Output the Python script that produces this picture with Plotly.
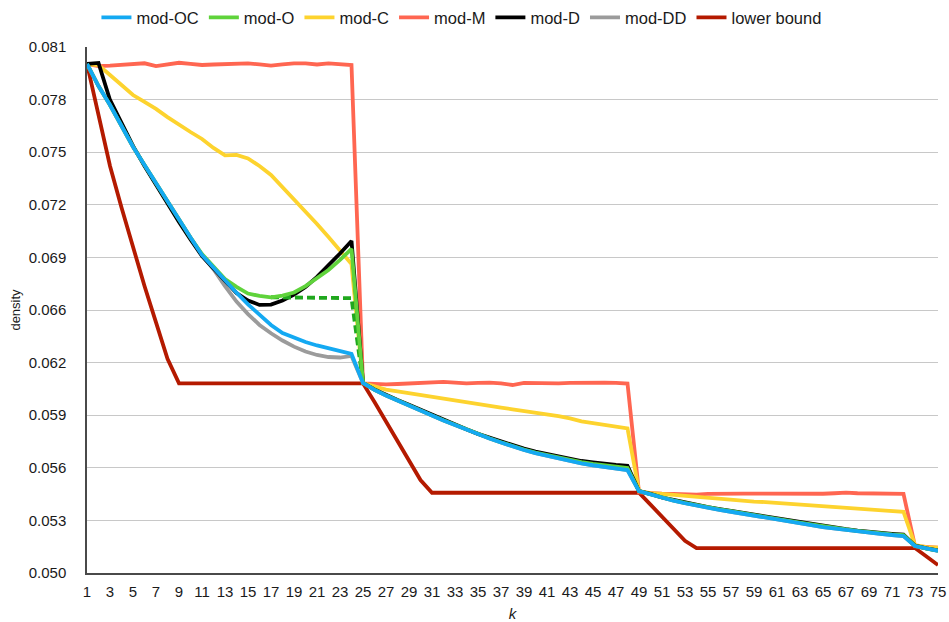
import plotly.graph_objects as go

k = list(range(1, 76))

mod_OC = [0.0800, 0.0787, 0.07758, 0.07634, 0.07512, 0.07405, 0.07296, 0.07188, 0.0708, 0.06977,
          0.06874, 0.06798, 0.06721, 0.06652, 0.06583, 0.06524, 0.06462, 0.06414, 0.06385, 0.06361,
          0.06341, 0.06323, 0.06305, 0.06291, 0.0612, 0.06079, 0.06046, 0.06018, 0.0599, 0.05959,
          0.05928, 0.05899, 0.05871, 0.05843, 0.05816, 0.05793, 0.05769, 0.05746, 0.05725, 0.05707,
          0.05691, 0.05675, 0.0566, 0.05646, 0.05635, 0.05625, 0.05616, 0.05607, 0.05483, 0.05463,
          0.05442, 0.05426, 0.05411, 0.05397, 0.05384, 0.05372, 0.05361, 0.05349, 0.05338, 0.05327,
          0.05316, 0.05305, 0.05293, 0.05282, 0.05271, 0.05262, 0.05253, 0.05244, 0.05236, 0.0523,
          0.05224, 0.05218, 0.05159, 0.05143, 0.05131]

mod_O = [0.0800, 0.0787, 0.07758, 0.07634, 0.07512, 0.07405, 0.07296, 0.07188, 0.0708, 0.06977,
         0.0688, 0.06803, 0.06733, 0.06686, 0.06647, 0.06633, 0.06625, 0.06635, 0.06653, 0.06691,
         0.06736, 0.06786, 0.06845, 0.0691, 0.0612, 0.0608, 0.06047, 0.06019, 0.05991, 0.0596,
         0.05929, 0.059, 0.05872, 0.05844, 0.05817, 0.05794, 0.05771, 0.05748, 0.05728, 0.0571,
         0.05695, 0.0568, 0.05666, 0.05653, 0.05643, 0.05634, 0.05626, 0.05619, 0.05483, 0.05464,
         0.05444, 0.05428, 0.05413, 0.05399, 0.05386, 0.05375, 0.05364, 0.05352, 0.05341, 0.0533,
         0.05319, 0.05308, 0.05297, 0.05286, 0.05275, 0.05266, 0.05257, 0.05248, 0.0524, 0.05234,
         0.05228, 0.05223, 0.0516, 0.05144, 0.05132]

# mod-O variant drawn dashed (k = 17 .. 25)
mod_O_alt_k = [17, 18, 19, 20, 21, 22, 23, 24, 25]
mod_O_alt = [0.06625, 0.06625, 0.06624, 0.06624, 0.06623, 0.06623, 0.06622, 0.0662, 0.0612]

mod_C = [0.0800, 0.07994, 0.07935, 0.07876, 0.07817, 0.07776, 0.07735, 0.07687, 0.0764, 0.07599,
         0.07558, 0.07505, 0.07461, 0.07464, 0.07443, 0.07399, 0.07346, 0.07275, 0.07198, 0.07128,
         0.07057, 0.0698, 0.06898, 0.06821, 0.0612, 0.06099, 0.06081, 0.0607, 0.06059, 0.06047,
         0.06036, 0.06025, 0.06015, 0.06003, 0.05992, 0.05984, 0.05975, 0.05965, 0.05956, 0.05947,
         0.05936, 0.05924, 0.05911, 0.05894, 0.05884, 0.05872, 0.05862, 0.05852, 0.05483, 0.05471,
         0.05466, 0.0546, 0.05455, 0.0545, 0.05445, 0.05439, 0.05433, 0.05427, 0.05421, 0.05418,
         0.05413, 0.0541, 0.05404, 0.05401, 0.05395, 0.05392, 0.05386, 0.0538, 0.05377, 0.05371,
         0.05365, 0.0536, 0.05165, 0.05153, 0.0515]

mod_M = [0.0800, 0.07987, 0.0799, 0.07994, 0.0800, 0.08004, 0.07987, 0.07997, 0.08007, 0.0800,
         0.07994, 0.07997, 0.0800, 0.08003, 0.08004, 0.07997, 0.0799, 0.07997, 0.08004, 0.08004,
         0.07997, 0.08003, 0.07997, 0.07994, 0.06118, 0.06114, 0.06112, 0.06114, 0.06116, 0.06118,
         0.06124, 0.06126, 0.06122, 0.06118, 0.0612, 0.06122, 0.06118, 0.06108, 0.0612, 0.06118,
         0.06116, 0.06118, 0.0612, 0.06122, 0.0612, 0.06122, 0.0612, 0.06116, 0.05475, 0.0547,
         0.05468, 0.05466, 0.05464, 0.05462, 0.05466, 0.05468, 0.05468, 0.05468, 0.05468, 0.05467,
         0.05467, 0.05467, 0.05467, 0.05467, 0.05467, 0.0547, 0.05474, 0.0547, 0.05468, 0.05468,
         0.05468, 0.05466, 0.05158, 0.05152, 0.0515]

mod_D = [0.0800, 0.08006, 0.07788, 0.07646, 0.07517, 0.07399, 0.07287, 0.07175, 0.07069, 0.06966,
         0.06868, 0.06795, 0.0672, 0.0665, 0.06606, 0.0658, 0.06582, 0.06606, 0.06641, 0.06686,
         0.06745, 0.06812, 0.06883, 0.06957, 0.0612, 0.06082, 0.06049, 0.0602, 0.05992, 0.05962,
         0.05931, 0.05902, 0.05874, 0.05847, 0.0582, 0.05797, 0.05775, 0.05753, 0.05733, 0.05716,
         0.05701, 0.05686, 0.05673, 0.0566, 0.05652, 0.05643, 0.05637, 0.05632, 0.05483, 0.05466,
         0.05445, 0.05431, 0.05416, 0.05402, 0.05389, 0.05377, 0.05366, 0.05354, 0.05343, 0.05332,
         0.05321, 0.0531, 0.05298, 0.05287, 0.05276, 0.05267, 0.05258, 0.0525, 0.05242, 0.05236,
         0.05231, 0.05226, 0.05161, 0.05145, 0.05133]

mod_DD = [0.0800, 0.0787, 0.07758, 0.07634, 0.07512, 0.07405, 0.07296, 0.07188, 0.0708, 0.06977,
          0.06874, 0.0679, 0.0669, 0.066, 0.06526, 0.06462, 0.06413, 0.0637, 0.06334, 0.06305,
          0.06285, 0.06273, 0.0627, 0.06279, 0.0612, 0.06079, 0.06046, 0.06018, 0.0599, 0.05959,
          0.05928, 0.05899, 0.05871, 0.05843, 0.05816, 0.05793, 0.05769, 0.05746, 0.05725, 0.05707,
          0.05691, 0.05675, 0.0566, 0.05646, 0.05635, 0.05625, 0.05616, 0.05607, 0.05483, 0.05463,
          0.05442, 0.05426, 0.05411, 0.05397, 0.05384, 0.05372, 0.05361, 0.05349, 0.05338, 0.05327,
          0.05316, 0.05305, 0.05293, 0.05282, 0.05271, 0.05262, 0.05253, 0.05244, 0.05236, 0.0523,
          0.05224, 0.05218, 0.05159, 0.05143, 0.05131]

lower_bound = [0.0800, 0.07693, 0.07399, 0.07154, 0.06917, 0.06691, 0.06477, 0.06262, 0.06118, 0.06118,
               0.06118, 0.06118, 0.06118, 0.06118, 0.06118, 0.06118, 0.06118, 0.06118, 0.06118, 0.06118,
               0.06118, 0.06118, 0.06118, 0.06118, 0.06118, 0.06008, 0.05892, 0.05778, 0.05663, 0.05548,
               0.05473, 0.05473, 0.05473, 0.05473, 0.05473, 0.05473, 0.05473, 0.05473, 0.05473, 0.05473,
               0.05473, 0.05473, 0.05473, 0.05473, 0.05473, 0.05473, 0.05473, 0.05473, 0.05473, 0.05403,
               0.05332, 0.05261, 0.0519, 0.05147, 0.05147, 0.05147, 0.05147, 0.05147, 0.05147, 0.05147,
               0.05147, 0.05147, 0.05147, 0.05147, 0.05147, 0.05147, 0.05147, 0.05147, 0.05147, 0.05147,
               0.05147, 0.05147, 0.05147, 0.05097, 0.05047]

y_tickvals = [0.050, 0.0531, 0.0562, 0.0593, 0.0624, 0.0655, 0.0686, 0.0717, 0.0748, 0.0779, 0.081]
y_ticktext = ["0.050", "0.053", "0.056", "0.059", "0.062", "0.066", "0.069", "0.072", "0.075", "0.078", "0.081"]
x_tickvals = list(range(1, 76, 2))

FONT = "Liberation Sans, Arial, Helvetica, sans-serif"
W = 3.8

# (name, y, color, legend rank) drawn bottom -> top
series = [
    ("lower bound", lower_bound, "#B41A00", 7),
    ("mod-M", mod_M, "#FF6651", 4),
    ("mod-C", mod_C, "#FDD32E", 3),
    ("mod-DD", mod_DD, "#9B9B9B", 6),
    ("mod-D", mod_D, "#000000", 5),
]

fig = go.Figure()
for name, ys, color, rank in series:
    fig.add_trace(go.Scatter(x=k, y=ys, name=name, mode="lines",
                             line=dict(color=color, width=W), legendrank=rank))

fig.add_trace(go.Scatter(x=mod_O_alt_k, y=mod_O_alt, mode="lines", showlegend=False,
                         line=dict(color="#20A81E", width=W, dash="8px,4px")))
fig.add_trace(go.Scatter(x=k, y=mod_O, name="mod-O", mode="lines",
                         line=dict(color="#5FD33B", width=W), legendrank=2))
fig.add_trace(go.Scatter(x=k, y=mod_OC, name="mod-OC", mode="lines",
                         line=dict(color="#14A9F2", width=W), legendrank=1))

fig.update_layout(
    width=949, height=622,
    margin=dict(l=87, r=11, t=47, b=49, autoexpand=False),
    paper_bgcolor="white", plot_bgcolor="white",
    font=dict(family=FONT, color="#1a1a1a", size=15),
    showlegend=True,
    legend=dict(orientation="h", x=0.44, xanchor="center", y=1.089, yanchor="top",
                font=dict(size=16.5, family=FONT), traceorder="normal",
                itemwidth=30, bgcolor="rgba(0,0,0,0)"),
    xaxis=dict(range=[1, 75], tickvals=x_tickvals, showgrid=False, zeroline=False,
               showline=True, linecolor="#4a4a4a", linewidth=2, ticks="", automargin=False,
               tickfont=dict(size=15), ticklabelstandoff=4,
               title=dict(text="<i>k</i>", font=dict(size=15), standoff=9)),
    yaxis=dict(range=[0.050, 0.081], tickvals=y_tickvals, ticktext=y_ticktext,
               showgrid=True, gridcolor="#c8c8c8", gridwidth=1, zeroline=False,
               showline=True, linecolor="#4a4a4a", linewidth=1.5, ticks="", automargin=False,
               tickfont=dict(size=15), ticklabelstandoff=16,
               title=dict(text="density", font=dict(size=13), standoff=5)),
)

fig.write_html("out.html", config={"displayModeBar": False},
               post_script="document.body.style.margin='0';document.body.style.overflow='hidden';")
